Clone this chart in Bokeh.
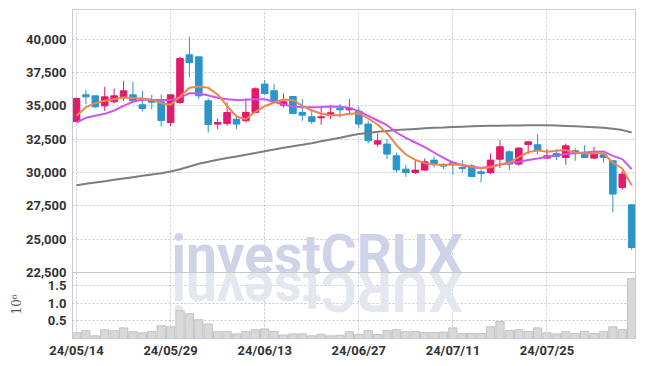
import math
from bokeh.plotting import figure
from bokeh.models import Range1d, FixedTicker, ColumnDataSource, Label, Span, Title
from bokeh.embed import file_html
from bokeh.resources import INLINE

# ---------------- data ----------------
idx = list(range(60))
tick_idx = [0, 10, 20, 30, 40, 50]
tick_labels = ["24/05/14", "24/05/29", "24/06/13", "24/06/27", "24/07/11", "24/07/25"]
price_ticks = [22500, 25000, 27500, 30000, 32500, 35000, 37500, 40000]
vol_ticks = [0.5, 1.0, 1.5]

open_ = [33825, 35825, 35750, 35000, 35300, 35675, 35825, 35075, 35480, 35300,
         33750, 35250, 38825, 38675, 35375, 33630, 33680, 34000, 33880, 34500,
         36630, 36130, 35050, 35700, 34500, 34180, 34100, 34280, 34800, 34700,
         34600, 33630, 32130, 32130, 31250, 30250, 30000, 30180, 30930, 30550,
         30750, 30380, 30500, 30050, 30000, 31000, 31550, 30630, 32100, 32080,
         31080, 31430, 31130, 31630, 31450, 31080, 31330, 30880, 28880, 27580]
high = [35600, 36200, 35750, 36425, 36300, 36875, 36800, 36125, 35830, 35850,
        35825, 38700, 40175, 38675, 35550, 34050, 35250, 34250, 35570, 36380,
        36950, 36630, 35930, 35700, 35500, 34630, 34880, 35080, 35130, 35500,
        34950, 33880, 32930, 32500, 31500, 30580, 30880, 31050, 31200, 30680,
        30830, 30930, 30630, 30250, 31430, 32430, 31680, 31880, 32300, 32880,
        31750, 31750, 32180, 31830, 32050, 31930, 31480, 30880, 30130, 27580]
low = [33800, 35125, 34850, 34625, 35200, 35375, 35300, 34575, 34750, 33450,
       33480, 35150, 37125, 35500, 33000, 33250, 33500, 33250, 33750, 34450,
       35800, 35180, 34880, 34400, 33880, 33630, 33580, 34000, 34130, 34380,
       33350, 32180, 31930, 31000, 30000, 29680, 29880, 30130, 30380, 30250,
       29830, 30000, 29650, 29250, 29880, 30330, 30180, 30500, 31380, 31380,
       31000, 30930, 30580, 30880, 31080, 31000, 30750, 27000, 28700, 24180]
close = [35550, 35675, 34925, 35675, 35750, 36125, 35375, 34800, 35270, 33900,
         35825, 38550, 38250, 35750, 33600, 33750, 34500, 33630, 34500, 36280,
         35930, 35300, 35300, 34430, 34300, 33830, 34180, 34480, 34700, 34830,
         33630, 32380, 32380, 31380, 30200, 30000, 30180, 30800, 30680, 30480,
         30630, 30300, 29700, 29930, 30930, 31930, 30630, 31830, 32300, 31630,
         31250, 31200, 32000, 31430, 31130, 31500, 31130, 28380, 29880, 24380]
volume_m = [0.16, 0.22, 0.075, 0.245, 0.22, 0.30, 0.19, 0.16, 0.20, 0.36,
            0.33, 0.78, 0.70, 0.53, 0.41, 0.20, 0.20, 0.13, 0.20, 0.245,
            0.27, 0.20, 0.10, 0.13, 0.13, 0.075, 0.12, 0.075, 0.09, 0.19,
            0.11, 0.22, 0.11, 0.23, 0.25, 0.19, 0.20, 0.17, 0.17, 0.18,
            0.30, 0.14, 0.14, 0.14, 0.33, 0.48, 0.23, 0.25, 0.20, 0.30,
            0.16, 0.13, 0.19, 0.14, 0.20, 0.14, 0.20, 0.33, 0.25, 1.69]
ma5 = [34250, 34900, 35200, 35380, 35500, 35620, 35580, 35550, 35450, 35200,
       35080, 35700, 36350, 36450, 36350, 35850, 35000, 34200, 34000, 34550,
       34970, 35250, 35480, 35420, 35000, 34650, 34420, 34300, 34300, 34400,
       34450, 34050, 33600, 32950, 32050, 31350, 30950, 30700, 30600, 30580,
       30600, 30580, 30450, 30330, 30400, 30600, 30750, 31150, 31520, 31660,
       31560, 31640, 31680, 31500, 31420, 31450, 31440, 30730, 30300, 29050]
ma20 = [33750, 34100, 34250, 34400, 34650, 35000, 35300, 35480, 35450, 35430,
        35430, 35600, 35950, 35950, 35780, 35600, 35500, 35440, 35450, 35500,
        35500, 35300, 35100, 34950, 34900, 34900, 34920, 34950, 34940, 34850,
        34600, 34250, 33900, 33550, 33000, 32600, 32250, 31900, 31500, 31100,
        30750, 30550, 30400, 30330, 30450, 30600, 30700, 30800, 30930, 31050,
        31180, 31280, 31380, 31450, 31500, 31550, 31580, 31250, 31000, 30250]
ma_long = [29050, 29150, 29250, 29350, 29450, 29550, 29650, 29750, 29850, 29950,
           30070, 30250, 30450, 30650, 30800, 30950, 31080, 31200, 31330, 31460,
           31600, 31720, 31850, 31970, 32080, 32200, 32340, 32480, 32610, 32750,
           32880, 32970, 33050, 33120, 33180, 33230, 33270, 33310, 33350, 33380,
           33420, 33440, 33460, 33480, 33500, 33510, 33520, 33530, 33540, 33540,
           33540, 33520, 33490, 33460, 33430, 33400, 33350, 33280, 33180, 33000]

# ---------------- geometry ----------------
PRICE_TOP, PRICE_BASE = 42225, 22500
PRICE_H, VOL_H = 263, 66
FRAME_H = PRICE_H + VOL_H
per_px = (PRICE_TOP - PRICE_BASE) / PRICE_H
Y_BOTTOM = PRICE_BASE - VOL_H * per_px
VOL_TOP = 1.864
vol_end = VOL_TOP * FRAME_H / VOL_H
X0, X1 = -0.425, 59.405

UP, DOWN = "#e3196b", "#2b95c9"
FONT = "Roboto"
TXT = "#333333"
GRID = "#c6c6d8"

colors = [UP if c >= o else DOWN for o, c in zip(open_, close)]
src = ColumnDataSource(dict(
    x=idx, o=open_, h=high, l=low, c=close,
    top=[max(o, c) for o, c in zip(open_, close)],
    bot=[min(o, c) for o, c in zip(open_, close)],
    col=colors, vol=volume_m, ma5=ma5, ma20=ma20, mal=ma_long))

p = figure(width=637, height=360, x_range=Range1d(X0, X1),
           y_range=Range1d(Y_BOTTOM, PRICE_TOP), output_backend="svg",
           toolbar_location=None, min_border_left=72, min_border_right=2,
           min_border_top=9, min_border_bottom=22)
p.extra_y_ranges = {"vol": Range1d(0, vol_end)}

# watermark (centred in the frame, sitting on the price/volume divider)
WM_X = (X0 + X1) / 2 - 3.9
WM_SHIFT = 18 * per_px
p.add_layout(Label(x=WM_X, y=PRICE_BASE + WM_SHIFT, text="investCRUX",
                   text_align="center", text_baseline="alphabetic", text_font="Roboto",
                   text_font_style="bold", text_font_size="55px", text_color="#ced3e7",
                   level="underlay"))
p.add_layout(Label(x=WM_X, y=PRICE_BASE - WM_SHIFT, text="XURCtsevni",
                   angle=math.pi, text_align="center", text_baseline="alphabetic",
                   text_font="Roboto", text_font_style="bold", text_font_size="55px",
                   text_color="#e4e7f0", level="underlay"))

# volume
p.vbar(x="x", top="vol", bottom=0, width=0.88, source=src, y_range_name="vol",
       fill_color="#d8d8d8", line_color="#c3c3c3", line_width=1)

# candles
p.segment(x0="x", y0="h", x1="x", y1="l", source=src, line_color="col", line_width=1)
p.vbar(x="x", top="top", bottom="bot", width=0.7, source=src, fill_color="col",
       line_color="col", line_width=1)

# moving averages
p.line("x", "mal", source=src, line_color="#7d7d7d", line_width=2)
p.line("x", "ma20", source=src, line_color="#cc55ee", line_width=2)
p.line("x", "ma5", source=src, line_color="#f0854a", line_width=2)

p.add_layout(Span(location=PRICE_BASE, dimension="width", line_color="#c8c8c8", line_width=1))

# axes / grid
vol_pos = [round(Y_BOTTOM + v * VOL_H * per_px / VOL_TOP, 2) for v in vol_ticks]
y_ticks = vol_pos + price_ticks
overrides = {float(t): f"{t:,}" for t in price_ticks}
overrides.update({vp: f"{v:.1f}" for vp, v in zip(vol_pos, vol_ticks)})

p.yaxis.ticker = FixedTicker(ticks=[float(t) for t in y_ticks])
p.yaxis.major_label_overrides = overrides
p.xaxis.ticker = FixedTicker(ticks=tick_idx)
p.xaxis.major_label_overrides = {t: l for t, l in zip(tick_idx, tick_labels)}

for ax in (p.xaxis[0], p.yaxis[0]):
    ax.major_tick_out = 0
    ax.major_tick_in = 0
    ax.minor_tick_out = 0
    ax.minor_tick_in = 0
    ax.axis_line_color = "#c8c8d2"
    ax.major_label_text_font = FONT
    ax.major_label_text_font_style = "bold"
    ax.major_label_text_font_size = "13px"
    ax.major_label_text_color = TXT
p.yaxis.major_label_standoff = 6
p.xaxis.major_label_standoff = 4

p.ygrid.ticker = FixedTicker(ticks=[float(t) for t in y_ticks])
p.xgrid.ticker = FixedTicker(ticks=tick_idx)
for g in (p.xgrid[0], p.ygrid[0]):
    g.grid_line_color = GRID
    g.grid_line_dash = "2 2"
    g.grid_line_width = 1

# volume unit label beside the volume panel
p.add_layout(Title(text="10⁶", align="left", offset=24, standoff=0,
                   text_font="DejaVu Serif", text_font_size="12px",
                   text_font_style="normal", text_color="#555555"), "left")

p.outline_line_color = "#cfcfcf"
p.background_fill_color = "white"
p.border_fill_color = "white"

open("out.html", "w").write(file_html(p, INLINE))
